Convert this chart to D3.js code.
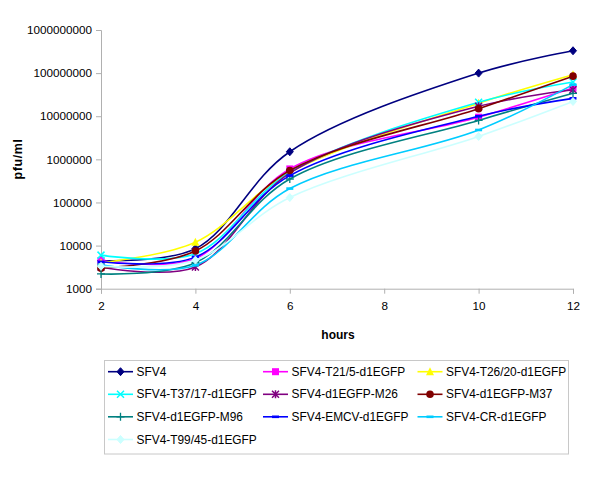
<!DOCTYPE html>
<html><head><meta charset="utf-8">
<script src="https://cdn.jsdelivr.net/npm/d3@7"></script>
<style>body{margin:0;background:#fff}svg{display:block;font-family:"Liberation Sans",Arial,sans-serif}</style>
</head><body><svg id="c" width="600" height="478"></svg>
<script>
const hours = [2, 4, 6, 10, 12];
const xTicks = [2, 4, 6, 8, 10, 12];
const yTicks = [1000, 10000, 100000, 1000000, 10000000, 100000000, 1000000000];
const seriesNames = ["SFV4","SFV4-T21/5-d1EGFP","SFV4-T26/20-d1EGFP","SFV4-T37/17-d1EGFP","SFV4-d1EGFP-M26","SFV4-d1EGFP-M37","SFV4-d1EGFP-M96","SFV4-EMCV-d1EGFP","SFV4-CR-d1EGFP","SFV4-T99/45-d1EGFP"];
const sfv4 = [4500, 8500, 1500000, 100000000, 330000000];
const t21 = [4500, 5000, 600000, 9500000, 45000000];
const t26 = [4000, 12000, 500000, 20000000, 92000000];
const t37 = [6000, 6500, 500000, 21000000, 62000000];
const m26 = [3200, 3200, 480000, 17000000, 41000000];
const m37 = [3000, 7500, 550000, 15000000, 85000000];
const m96 = [2200, 4000, 350000, 8000000, 34000000];
const emcv = [4200, 5400, 420000, 10000000, 26000000];
const cr = [3600, 3500, 210000, 4800000, 54000000];
const t99 = [3300, 4600, 130000, 3400000, 22000000];
const seriesValues = [sfv4, t21, t26, t37, m26, m37, m96, emcv, cr, t99];
const colors = ["#000080","#FF00FF","#FFFF00","#00FFFF","#800080","#800000","#008080","#0000FF","#00CCFF","#CCFFFF"];
const markers = ["diamond","square","triangle","x","asterisk","circle","plus","dash","dash","diamond"];

const svg = d3.select("#c");
const x = d3.scaleLinear().domain([2, 12]).range([101, 573]);
const y = d3.scaleLog().domain([1000, 1000000000]).range([288.7, 30]);

const axisColor = "#b0b0b0";
const yAxis = svg.append("g").attr("transform","translate(101,0)")
  .call(d3.axisLeft(y).tickValues(yTicks).tickFormat(d3.format("d")).tickSizeOuter(0).tickSize(5).tickPadding(4));
const xAxis = svg.append("g").attr("transform","translate(0,288.7)")
  .call(d3.axisBottom(x).tickValues(xTicks).tickFormat(d3.format("d")).tickSizeOuter(0).tickSize(5).tickPadding(8));
[yAxis, xAxis].forEach(g => {
  g.selectAll("path,line").attr("stroke", axisColor);
  g.selectAll("text").attr("font-size", "11.7px").attr("fill", "#000").attr("font-family", "Liberation Sans, Arial, sans-serif");
});

svg.append("text").attr("transform","translate(22,159) rotate(-90)").attr("text-anchor","middle")
  .attr("font-weight","bold").attr("font-size","12.5px").attr("letter-spacing","0.6px").text("pfu/ml");
svg.append("text").attr("x",338).attr("y",339).attr("text-anchor","middle")
  .attr("font-weight","bold").attr("font-size","12px").text("hours");

function drawMarker(g, type, cx, cy, color) {
  const s = 3.5;
  if (type === "diamond") {
    g.append("path").attr("d",`M${cx},${cy-s-0.5}L${cx+s},${cy}L${cx},${cy+s+0.5}L${cx-s},${cy}Z`).attr("fill",color).attr("stroke",color);
  } else if (type === "square") {
    g.append("rect").attr("x",cx-3.5).attr("y",cy-3.5).attr("width",7).attr("height",7).attr("fill",color);
  } else if (type === "triangle") {
    g.append("path").attr("d",`M${cx},${cy-4.5}L${cx+4},${cy+3.5}L${cx-4},${cy+3.5}Z`).attr("fill",color);
  } else if (type === "x") {
    g.append("path").attr("d",`M${cx-3.5},${cy-3.5}L${cx+3.5},${cy+3.5}M${cx-3.5},${cy+3.5}L${cx+3.5},${cy-3.5}`).attr("stroke",color).attr("stroke-width",1.5);
  } else if (type === "asterisk") {
    g.append("path").attr("d",`M${cx-3.5},${cy-3.5}L${cx+3.5},${cy+3.5}M${cx-3.5},${cy+3.5}L${cx+3.5},${cy-3.5}M${cx},${cy-4}L${cx},${cy+4}`).attr("stroke",color).attr("stroke-width",1.5);
  } else if (type === "circle") {
    g.append("circle").attr("cx",cx).attr("cy",cy).attr("r",3.8).attr("fill",color);
  } else if (type === "plus") {
    g.append("path").attr("d",`M${cx-4},${cy}L${cx+4},${cy}M${cx},${cy-4}L${cx},${cy+4}`).attr("stroke",color).attr("stroke-width",1.3);
  } else if (type === "dash") {
    g.append("rect").attr("x",cx-3.5).attr("y",cy-1.3).attr("width",7).attr("height",2.6).attr("fill",color);
  }
}

const line = d3.line().x((d,i)=>x(hours[i])).y(d=>y(d)).curve(d3.curveCatmullRom.alpha(0.5));
const plot = svg.append("g");
seriesValues.forEach((vals, si) => {
  const g = plot.append("g");
  g.append("path").attr("d", line(vals)).attr("fill","none").attr("stroke",colors[si]).attr("stroke-width",1.6);
  vals.forEach((v,i) => drawMarker(g, markers[si], x(hours[i]), y(v), colors[si]));
});

// legend
const lg = svg.append("g");
lg.append("rect").attr("x",104.5).attr("y",360.5).attr("width",464).attr("height",93.5).attr("fill","#fff").attr("stroke","#c8c8c8");
const colX = [108, 263, 417.5];
const rowY = [371.7, 394.3, 416.8, 439.5];
seriesNames.forEach((name, i) => {
  const cx = colX[i % 3], cy = rowY[Math.floor(i / 3)];
  const item = lg.append("g");
  item.append("line").attr("x1",cx).attr("x2",cx+25).attr("y1",cy).attr("y2",cy).attr("stroke",colors[i]).attr("stroke-width",1.6);
  drawMarker(item, markers[i], cx+12.5, cy, colors[i]);
  item.append("text").attr("x",cx+28.5).attr("y",cy+4).attr("font-size","11.9px").text(name);
});
</script></body></html>
